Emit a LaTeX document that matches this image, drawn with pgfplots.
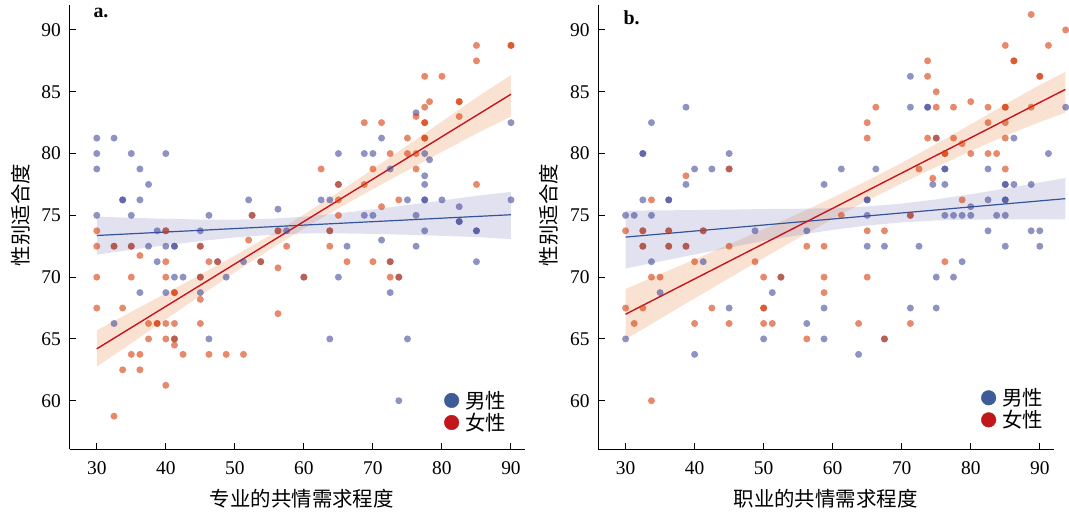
\documentclass[border=0pt]{standalone}
\usepackage{fontspec}
\setmainfont{Liberation Serif}
\newfontfamily\cjk{Noto Sans CJK SC}
\usepackage{pgfplots}
\pgfplotsset{compat=1.18}

\definecolor{mblue}{RGB}{68,75,153}
\definecolor{forange}{RGB}{215,60,10}
\definecolor{lineblue}{RGB}{52,84,155}
\definecolor{linered}{RGB}{200,20,28}
\definecolor{bandor}{RGB}{240,160,110}
\definecolor{bandbl}{RGB}{120,120,180}
\definecolor{legblue}{RGB}{62,92,152}
\definecolor{legred}{RGB}{192,22,28}

\pgfplotsset{
  myax/.style={
    scale only axis, width=455.5bp, height=444.3bp,
    xmin=26.05, xmax=92.03, ymin=56.07, ymax=92.02,
    axis x line*=bottom, axis y line*=left,
    axis line style={-, line width=1.3bp, black},
    xtick={30,40,...,90}, ytick={60,65,...,90},
    tick align=inside, major tick length=6.5bp,
    tick style={black, line width=1bp},
    tick label style={font=\fontsize{19.5}{20}\selectfont},
    /pgf/number format/assume math mode=true,
    yticklabel style={inner sep=0pt, anchor=east, xshift=-8.5bp},
    xticklabel style={inner sep=0pt, anchor=north, yshift=-12.5bp},
    label style={font=\cjk\fontsize{20.5}{22}\selectfont},
    ylabel style={anchor=center, rotate=0},
    xlabel style={anchor=center},
    clip=false,
    legend style={draw=none, fill=none, anchor=south east,
      font=\cjk\fontsize{20.5}{22}\selectfont,
      nodes={inner sep=0.5bp}, column sep=6bp, row sep=2.3bp},
    legend cell align=left,
  },
  mpts/.style={only marks, mark=*, mark size=3.5bp, forget plot, color=mblue,
    mark options={fill=mblue, fill opacity=0.6, draw opacity=0, line width=0pt}},
  fpts/.style={only marks, mark=*, mark size=3.5bp, forget plot, color=forange,
    mark options={fill=forange, fill opacity=0.6, draw opacity=0, line width=0pt}},
}

\begin{document}
\begin{tikzpicture}
\useasboundingbox (0,0) rectangle (1069bp,515bp);

% ---------------- Panel a ----------------
\begin{axis}[myax, at={(69.5bp,65.7bp)}, anchor=south west,
  xlabel={专业的共情需求程度}, ylabel={性别适合度},
  xlabel style={at={(axis description cs:0.51,-0.112)}},
  ylabel style={at={(axis description cs:-0.107,0.527)}},
  legend style={at={(0.967,0.033)}}]
\addplot[fill=bandor, fill opacity=0.3, draw=none, forget plot] coordinates {
(30,65.70)(35,67.20)(40,68.69)(45,70.20)(50,71.75)(55,73.35)(60,75.06)(65,76.87)(70,78.74)(75,80.66)(80,82.60)(85,84.54)(90,86.35)
(90,83.0)(85,81.62)(80,80.14)(75,78.64)(70,77.12)(65,75.57)(60,73.94)(55,72.21)(50,70.39)(45,68.50)(40,66.58)(35,64.65)(30,62.75)};
\addplot[fill=bandbl, fill opacity=0.22, draw=none, forget plot] coordinates {
(30,74.89)(35,74.80)(40,74.72)(45,74.66)(50,74.65)(55,74.72)(60,74.89)(65,75.16)(70,75.48)(75,75.83)(80,76.20)(85,76.58)(90,76.90)
(90,73.08)(85,73.24)(80,73.34)(75,73.43)(70,73.50)(65,73.54)(60,73.53)(55,73.42)(50,73.21)(45,72.92)(40,72.58)(35,72.22)(30,71.82)};
\addplot[mpts] coordinates {
(30,81.25)(30,80)(30,78.75)(30,75)(32.5,81.25)(32.5,72.5)(32.5,66.25)
(33.75,76.25)(33.75,76.25)(35,80)(35,75)(35,72.5)(36.25,78.75)(36.25,76.25)(36.25,68.75)
(37.5,77.5)(37.5,72.5)(38.75,73.75)(38.75,71.25)(40,80)(40,73.75)(40,72.5)(40,68.75)
(41.25,72.5)(41.25,72.5)(41.25,70)(41.25,65)(42.5,70)(45,73.75)(45,72.5)(45,70)(45,68.75)
(46.25,75)(46.25,65)(47.5,71.25)(48.75,70)(51.25,71.25)(52,76.25)(52.5,75)(53.75,71.25)
(56.25,75.5)(56.25,73.75)(57.5,73.75)(60,70)(62.5,76.25)(63.75,76.25)(63.75,73.75)(63.75,65)
(65,80)(65,77.5)(65,70)(66.25,72.5)(68.75,80)(68.75,75)(70,80)(70,75)(71.25,81.25)(71.25,73)
(72.5,78.75)(72.5,71.25)(72.5,68.75)(73.75,70)(73.75,60)(75,76.25)(75,65)
(76.25,83.3)(76.25,75)(76.25,72.5)(77.5,80)(77.5,78.2)(77.5,77.5)(77.5,76.25)(77.5,76.25)(77.5,73.75)
(78.2,79.5)(80,76.25)(82.5,75.7)(82.5,74.5)(82.5,74.5)(85,73.75)(85,73.75)(85,71.25)(90,82.5)(90,76.25)};
\addplot[fpts] coordinates {
(30,73.75)(30,72.5)(30,70)(30,67.5)(32.5,72.5)(32.5,58.75)(33.75,67.5)(33.75,62.5)
(35,72.5)(35,70)(35,63.75)(36.25,71.75)(36.25,63.75)(36.25,62.5)(37.5,66.25)(37.5,65)
(38.75,66.25)(38.75,66.25)(40,73.75)(40,71.25)(40,70)(40,66.25)(40,65)(40,61.25)
(41.25,68.75)(41.25,68.75)(41.25,66.25)(41.25,65)(41.25,64.5)(42.5,63.75)
(45,72.5)(45,70)(45,68.2)(45,66.25)(46.25,71.25)(46.25,63.75)(47.5,71.25)(48.75,63.75)
(51.25,63.75)(52,73)(52.5,75)(53.75,71.25)(56.25,73.75)(56.25,70.75)(56.25,67.05)(57.5,72.5)
(60,70)(62.5,78.75)(63.75,73.75)(63.75,72.5)(65,77.5)(65,76.25)(65,75)(66.25,71.25)
(68.75,82.5)(68.75,77.5)(70,78.75)(70,71.25)(71.25,82.5)(71.25,75.7)(72.5,80)(72.5,71.25)(72.5,70)
(73.75,76.25)(73.75,70)(75,81.25)(75,80)(76.25,83)(76.25,80)(76.25,78.75)
(77.5,86.25)(77.5,83.75)(77.5,82.5)(77.5,82.5)(77.5,81.25)(77.5,81.25)(78.2,84.2)(80,86.25)
(82.5,84.2)(82.5,84.2)(82.5,83)(85,88.75)(85,87.5)(85,77.5)(90,88.75)(90,88.75)};
\addplot[lineblue, line width=1.2bp, forget plot] coordinates {(30,73.37)(90,75.05)};
\addplot[linered, line width=1.4bp, forget plot] coordinates {(30,64.2)(90,84.8)};
\addlegendimage{only marks, mark=*, mark size=7.3bp, legblue}
\addlegendentry{男性}
\addlegendimage{only marks, mark=*, mark size=7.3bp, legred}
\addlegendentry{女性}
\node[anchor=base west, font=\bfseries\fontsize{20}{22}\selectfont] at (axis description cs:0.045,0.971) {a.};
\end{axis}

% ---------------- Panel b ----------------
\begin{axis}[myax, at={(598.3bp,65.7bp)}, anchor=south west,
  xlabel={职业的共情需求程度}, ylabel={性别适合度},
  xlabel style={at={(axis description cs:0.499,-0.112)}},
  ylabel style={at={(axis description cs:-0.108,0.527)}},
  legend style={at={(0.985,0.039)}}]
\addplot[fill=bandor, fill opacity=0.3, draw=none, forget plot] coordinates {
(30,69.04)(35,70.24)(40,71.44)(45,72.64)(50,73.87)(55,75.13)(60,76.43)(65,77.80)(70,79.25)(75,80.78)(80,82.36)(85,83.99)(90,85.55)(93.7,86.6)
(93.7,83.3)(90,82.55)(85,81.44)(80,80.20)(75,78.92)(70,77.59)(65,76.20)(60,74.71)(55,73.16)(50,71.55)(45,69.92)(40,68.28)(35,66.62)(30,64.96)};
\addplot[fill=bandbl, fill opacity=0.22, draw=none, forget plot] coordinates {
(30,75.38)(35,75.40)(40,75.43)(45,75.46)(50,75.51)(55,75.53)(60,75.58)(65,75.72)(70,75.95)(75,76.29)(80,76.71)(85,77.16)(90,77.66)(93.7,78.02)
(93.7,74.68)(90,74.68)(85,74.68)(80,74.65)(75,74.59)(70,74.43)(65,74.18)(60,73.82)(55,73.39)(50,72.93)(45,72.38)(40,71.83)(35,71.27)(30,70.70)};
\addplot[mpts] coordinates {
(30,75)(30,65)(31.25,75)(32.5,80)(32.5,80)(32.5,76.25)(32.5,73.75)(32.5,72.5)
(33.75,82.5)(33.75,75)(33.75,71.25)(35,68.75)(36.25,76.25)(36.25,76.25)(36.25,73.75)(36.25,72.5)
(38.75,83.75)(38.75,77.5)(38.75,72.5)(40,78.75)(40,63.75)(41.25,73.75)(41.25,71.25)(42.5,78.75)
(45,80)(45,78.75)(45,67.5)(48.75,73.75)(50,65)(51.25,68.75)(52.5,70)(56.25,73.75)(56.25,66.25)
(58.75,77.5)(58.75,67.5)(58.75,65)(61.25,78.75)(63.75,63.75)(65,76.25)(65,76.25)(65,75)(65,72.5)
(66.25,78.75)(67.5,72.5)(67.5,65)(71.25,86.25)(71.25,83.75)(71.25,75)(71.25,67.5)(72.5,72.5)
(73.75,83.75)(73.75,83.75)(74.5,77.5)(75,81.25)(75,70)(75,67.5)(76.25,78.75)(76.25,78.75)(76.25,77.5)(76.25,75)
(77.5,75)(77.5,70)(78.75,75)(78.75,71.25)(80,75.7)(80,75)(82.5,78.75)(82.5,76.25)(82.5,73.75)(83.75,75)
(85,77.5)(85,77.5)(85,76.25)(85,76.25)(85,75)(85,72.5)(86.25,81.25)(86.25,77.5)(88.75,77.5)(88.75,73.75)
(90,73.75)(90,72.5)(91.25,80)(93.75,83.75)};
\addplot[fpts] coordinates {
(30,73.75)(30,67.5)(31.25,66.25)(32.5,73.75)(32.5,72.5)(32.5,67.5)(33.75,76.25)(33.75,70)(33.75,60)
(35,70)(36.25,73.75)(36.25,72.5)(38.75,78.2)(38.75,72.5)(40,71.25)(40,66.25)(41.25,73.75)(42.5,67.5)
(45,78.75)(45,72.5)(45,66.25)(48.75,71.25)(50,70)(50,67.5)(50,67.5)(50,66.25)(51.25,66.25)(52.5,70)
(56.25,72.5)(56.25,65)(58.75,72.5)(58.75,70)(58.75,68.75)(61.25,75)(63.75,66.25)
(65,82.5)(65,81.25)(65,73.75)(65,70)(66.25,83.75)(67.5,73.75)(67.5,65)(71.25,75)(71.25,66.25)(72.5,78.75)
(73.75,87.5)(73.75,86.25)(73.75,81.25)(74.5,78)(75,85)(75,83.75)(75,81.25)(76.25,80)(76.25,80)(76.25,71.25)
(77.5,83.75)(77.5,81.25)(78.75,80.8)(78.75,76.25)(80,84.2)(80,80)(82.5,83.75)(82.5,82.5)(82.5,80)(83.75,80)
(85,88.75)(85,83.75)(85,83.75)(85,82.5)(85,81.25)(85,78.75)(86.25,87.5)(86.25,87.5)(88.75,91.25)(88.75,83.75)
(90,86.25)(90,86.25)(91.25,88.75)(93.75,90)};
\addplot[lineblue, line width=1.2bp, forget plot] coordinates {(30,73.24)(93.7,76.35)};
\addplot[linered, line width=1.4bp, forget plot] coordinates {(30,67.0)(93.7,85.19)};
\addlegendimage{only marks, mark=*, mark size=7.3bp, legblue}
\addlegendentry{男性}
\addlegendimage{only marks, mark=*, mark size=7.3bp, legred}
\addlegendentry{女性}
\node[anchor=base west, font=\bfseries\fontsize{20}{22}\selectfont] at (axis description cs:0.0476,0.957) {b.};
\end{axis}
\end{tikzpicture}
\end{document}
